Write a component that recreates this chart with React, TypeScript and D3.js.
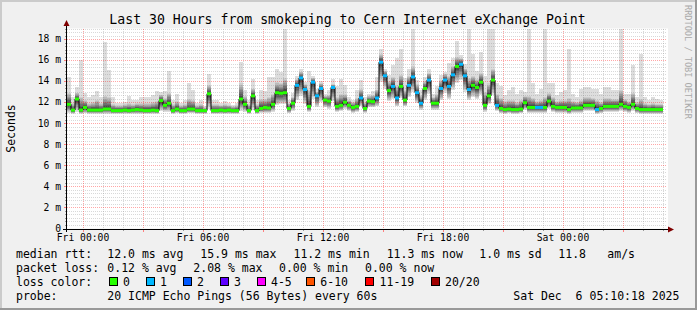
import React from "react";
import * as d3 from "d3";

const W = 697;
const H = 310;

// median RTT per 12-minute step (ms)
const medianMs = [
  11.8, 11.25, 12.3, 11.25, 11.5, 11.25, 11.25, 11.25, 11.25, 11.35,
  11.35, 11.2, 11.2, 11.2, 11.25, 11.2, 11.25, 11.3, 11.25, 11.2,
  11.2, 11.25, 11.2, 12.15, 11.7, 11.9, 11.2, 11.35, 11.2, 11.2,
  11.35, 11.35, 11.2, 11.2, 11.2, 12.8, 11.2, 11.2, 11.25, 11.2,
  11.25, 11.2, 11.2, 12.3, 11.8, 11.2, 12.6, 11.2, 11.4, 11.5,
  11.45, 11.8, 12.9, 12.85, 12.9, 11.4, 11.9, 13.6, 14.3, 13.2,
  11.6, 13.9, 12.6, 13.3, 12.2, 12.1, 13.4, 11.6, 11.7, 12.0,
  11.7, 11.5, 11.6, 12.4, 11.4, 12.1, 12.05, 12.4, 15.8, 14.5,
  13.1, 13.5, 12.4, 13.5, 12.2, 13.6, 14.4, 12.9, 11.9, 13.3,
  14.1, 11.9, 11.9, 13.3, 14.1, 13.5, 14.6, 15.4, 15.6, 14.5,
  13.2, 13.6, 13.4, 13.9, 11.7, 12.6, 14.1, 11.7, 11.4, 11.3,
  11.35, 11.3, 11.3, 11.35, 11.95, 11.5, 11.5, 11.5, 11.5, 11.5,
  12.1, 11.6, 11.5, 11.5, 11.5, 11.3, 11.45, 11.45, 11.45, 11.7,
  11.7, 11.7, 11.3, 11.4, 11.6, 11.6, 11.6, 11.6, 11.8, 11.6,
  11.5, 11.8, 11.4, 11.3, 11.3, 11.3, 11.3, 11.3, 11.3,
];

// lowest ping per step (ms)
const minMs = [
  11.0, 10.9, 11.1, 10.9, 10.95, 10.9, 10.9, 10.9, 10.9, 10.9,
  10.9, 10.9, 10.9, 10.9, 10.9, 10.9, 10.9, 10.9, 10.9, 10.9,
  10.9, 10.9, 10.9, 11.2, 11.1, 11.1, 10.9, 10.95, 10.9, 10.9,
  10.95, 10.95, 10.9, 10.9, 10.9, 11.4, 10.9, 10.9, 10.9, 10.9,
  10.9, 10.9, 10.9, 11.2, 11.1, 10.9, 11.3, 10.9, 11.0, 11.0,
  11.0, 11.1, 11.7, 11.8, 11.8, 10.95, 11.2, 12.2, 12.6, 11.8,
  11.1, 12.3, 11.5, 12.0, 11.5, 11.4, 12.1, 11.1, 11.2, 11.4,
  11.2, 11.0, 11.1, 11.6, 11.0, 11.5, 11.5, 11.6, 13.9, 13.3,
  12.1, 12.3, 11.6, 12.4, 11.6, 12.5, 13.0, 11.9, 11.3, 12.2,
  12.8, 11.3, 11.3, 12.2, 12.9, 12.3, 13.2, 13.8, 14.1, 13.0,
  12.2, 12.5, 12.3, 12.7, 11.1, 11.8, 12.7, 11.2, 10.95, 10.9,
  10.95, 10.9, 10.9, 10.95, 11.3, 11.0, 11.0, 11.0, 11.0, 11.0,
  11.4, 11.1, 11.0, 11.0, 11.0, 10.9, 11.0, 11.0, 11.0, 11.2,
  11.2, 11.2, 10.9, 10.95, 11.1, 11.1, 11.1, 11.1, 11.2, 11.1,
  11.0, 11.2, 10.95, 10.9, 10.9, 10.9, 10.9, 10.9, 10.9,
];

// upper edge of the dense part of the smoke (ms)
const p90Ms = [
  12.9, 11.9, 12.9, 12.5, 12.2, 11.9, 12.0, 12.2, 11.9, 12.6,
  12.5, 11.8, 11.7, 11.7, 11.8, 11.9, 11.8, 11.9, 11.9, 11.9,
  11.9, 12.0, 12.1, 12.7, 12.4, 12.9, 11.8, 12.1, 11.7, 11.8,
  12.3, 12.2, 11.7, 11.8, 11.5, 13.6, 11.8, 11.8, 11.7, 11.8,
  11.7, 11.6, 11.7, 13.8, 12.6, 11.8, 13.3, 11.8, 12.3, 12.3,
  12.5, 12.8, 13.9, 13.8, 14.3, 11.9, 12.5, 14.2, 14.9, 13.7,
  13.2, 14.3, 13.0, 13.8, 12.6, 12.7, 13.7, 12.5, 12.8, 12.8,
  12.2, 12.0, 12.4, 13.3, 12.0, 12.6, 12.7, 13.2, 16.6, 15.0,
  14.0, 14.4, 13.6, 14.6, 13.2, 14.5, 15.4, 13.7, 12.7, 14.0,
  14.8, 12.5, 12.8, 14.1, 14.7, 14.5, 15.4, 16.3, 16.2, 15.2,
  14.3, 14.5, 14.2, 14.8, 13.0, 13.8, 15.2, 12.8, 12.4, 12.1,
  12.2, 12.2, 12.0, 12.2, 12.6, 12.6, 12.4, 12.1, 12.2, 12.5,
  12.9, 12.5, 12.1, 12.2, 12.2, 12.4, 12.1, 12.0, 12.2, 12.5,
  12.5, 12.4, 12.2, 12.0, 12.4, 12.4, 12.3, 12.3, 13.2, 12.3,
  12.1, 12.9, 12.0, 12.3, 11.9, 11.8, 11.9, 11.8, 11.8,
];

// highest ping per step (ms)
const maxMs = [
  14.4, 12.5, 13.4, 16.0, 12.9, 12.5, 12.7, 13.1, 12.5, 17.7,
  15.1, 12.5, 11.9, 11.9, 12.0, 12.6, 12.2, 12.2, 12.5, 12.5,
  12.5, 12.7, 13.1, 13.0, 13.1, 15.0, 12.2, 12.8, 11.9, 12.2,
  13.8, 13.2, 11.9, 12.2, 11.6, 14.7, 12.2, 12.2, 11.9, 12.1,
  11.9, 11.7, 11.9, 15.8, 13.2, 12.2, 14.2, 12.2, 13.2, 13.1,
  14.4, 14.4, 15.2, 14.9, 19.0, 12.2, 12.9, 14.5, 15.2, 13.9,
  15.0, 14.5, 13.3, 14.0, 12.8, 13.2, 14.2, 13.5, 14.2, 13.6,
  12.5, 12.2, 13.2, 14.1, 12.5, 12.8, 13.1, 14.4, 17.1, 15.2,
  14.6, 15.5, 16.2, 17.1, 14.3, 15.2, 19.0, 14.1, 13.2, 14.4,
  15.2, 12.8, 13.5, 14.6, 14.9, 15.7, 16.2, 17.8, 16.5, 15.6,
  19.0, 16.6, 15.0, 16.8, 14.5, 19.0, 19.0, 13.8, 13.5, 12.7,
  13.2, 13.4, 12.8, 13.2, 13.0, 19.0, 13.8, 12.8, 13.3, 19.0,
  13.8, 13.8, 12.7, 13.0, 13.2, 17.1, 12.8, 12.5, 13.3, 13.4,
  13.4, 13.3, 13.3, 12.8, 13.4, 13.4, 13.2, 13.2, 19.0, 12.8,
  12.8, 15.5, 12.5, 16.6, 12.5, 12.2, 12.5, 12.3, 12.2,
];

// steps with 1 of 20 pings lost
const lossOneSteps = [
  57, 58, 59, 61, 62, 63, 66, 73, 77, 78, 79, 81, 82, 85, 86, 87, 88, 90,
  93, 94, 95, 96, 98, 99, 100, 107, 117, 118, 132,
];

const yTickValues = [0, 2, 4, 6, 8, 10, 12, 14, 16, 18];
const yTickLabels = ["0", "2 m", "4 m", "6 m", "8 m", "10 m", "12 m", "14 m", "16 m", "18 m"];

const lossLabels = ["0", "1", "2", "3", "4-5", "6-10", "11-19", "20/20"];
const lossColors = ["#26ff00", "#00b8ff", "#0059ff", "#5e00ff", "#ff00ff", "#ff5500", "#ff0000", "#a10000"];
const lossBoxX = [108.7, 145.7, 182.7, 219.7, 256.7, 306, 365.3, 430.7];

const legendRows: [number, number, string][] = [
  [258, 16, "median rtt:"],
  [258, 107.3, "12.0 ms avg"],
  [258, 200.3, "15.9 ms max"],
  [258, 293.5, "11.2 ms min"],
  [258, 386.7, "11.3 ms now"],
  [258, 479.3, "1.0 ms sd"],
  [258, 558.3, "11.8"],
  [258, 607.3, "am/s"],
  [272, 16, "packet loss:"],
  [272, 107.3, "0.12 % avg"],
  [272, 193.3, "2.08 % max"],
  [272, 279, "0.00 % min"],
  [272, 365, "0.00 % now"],
  [286, 16, "loss color:"],
  [300, 16, "probe:"],
  [300, 107.3, "20 ICMP Echo Pings (56 Bytes) every 60s"],
  [300, 513.3, "Sat Dec  6 05:10:18 2025"],
];

const MONO = "'DejaVu Sans Mono', monospace";

export default function App() {
  const left = 67;
  const right = 667;
  const top = 28.5;
  const bottom = 228.5;

  const t0 = new Date(Date.UTC(2025, 11, 4, 23, 12));
  const t1 = new Date(Date.UTC(2025, 11, 6, 5, 12));
  const stepMs = 12 * 60 * 1000;
  const x = d3.scaleUtc().domain([t0, t1]).range([left, right]);
  const y = d3.scaleLinear().domain([0, 19]).range([bottom, top]);
  const tAt = (k: number) => new Date(t0.getTime() + k * stepMs);
  const px = (v: number) => Math.round(v) + 0.5;

  const lossSet = new Set(lossOneSteps);

  const hourTicks = x.ticks(d3.utcHour.every(1) as any);
  const majorTicks = hourTicks.filter((d) => d.getUTCHours() % 3 === 0);
  const minorTicks = hourTicks.filter((d) => d.getUTCHours() % 3 !== 0);
  const labelTicks = hourTicks.filter((d) => d.getUTCHours() % 6 === 0);
  const fmt = d3.utcFormat("%a %H:%M");

  const yMinor = d3.range(0, 19.001, 1 / 3).filter((v) => {
    const r = v / 2;
    return Math.abs(r - Math.round(r)) > 0.01;
  });

  // smoke bands
  const nBands = 10;
  const bands: any[] = [];
  for (let j = 0; j < nBands; j++) {
    const level = j === 0 ? 221 : Math.round(205 - (j - 1) * (150 / 8));
    const color = `rgb(${level},${level},${level})`;
    const rects = medianMs.map((m, k) => {
      let lo: number, hi: number;
      if (j === 0) {
        lo = minMs[k];
        hi = maxMs[k];
      } else {
        lo = minMs[k] + (m - minMs[k]) * (j / nBands);
        hi = p90Ms[k] + (m - p90Ms[k]) * ((j - 1) / (nBands - 1));
      }
      const x0 = x(tAt(k));
      const x1 = x(tAt(k + 1));
      const yTop = y(Math.min(hi, 19));
      const yBot = y(lo);
      return (
        <rect key={k} x={x0} y={yTop} width={x1 - x0} height={Math.max(0, yBot - yTop)} fill={color} />
      );
    });
    bands.push(<g key={j}>{rects}</g>);
  }

  const medPts: [number, number][] = medianMs.map((m, k) => [x(tAt(k)), y(m)]);
  medPts.push([x(tAt(medianMs.length)), y(medianMs[medianMs.length - 1])]);
  const medLine = d3.line().curve(d3.curveStepAfter)(medPts) || "";

  return (
    <svg
      width={W}
      height={H}
      viewBox={`0 0 ${W} ${H}`}
      style={{ position: "fixed", left: 0, top: 0, display: "block" }}
      fontFamily={MONO}
    >
      <rect x={0} y={0} width={W} height={H} fill="#f0f0f0" />
      {/* 3D frame */}
      <rect x={0} y={0} width={W} height={2} fill="#cbcbcb" />
      <rect x={0} y={0} width={2} height={H} fill="#cbcbcb" />
      <rect x={0} y={H - 2} width={W} height={2} fill="#999999" />
      <rect x={W - 2} y={0} width={2} height={H} fill="#999999" />

      <text x={347.5} y={24} fontSize={13.2} textAnchor="middle" fill="#000">
        Last 30 Hours from smokeping to Cern Internet eXchange Point
      </text>

      <text transform="translate(685,5) rotate(90)" fontSize={8.6} fill="#aaaaaa">
        RRDTOOL / TOBI OETIKER
      </text>

      <text
        transform={`translate(15,${(top + bottom) / 2}) rotate(-90)`}
        fontSize={11.5}
        textAnchor="middle"
        fill="#000"
      >
        Seconds
      </text>

      {/* canvas */}
      <rect x={left} y={top} width={right - left + 1} height={bottom - top} fill="#ffffff" />

      <g shapeRendering="crispEdges">{bands}</g>

      {/* grid */}
      <g shapeRendering="crispEdges" strokeWidth={1} strokeDasharray="1,1">
        {yMinor.map((v, i) => (
          <line key={"ym" + i} x1={left} x2={right} y1={px(y(v))} y2={px(y(v))} stroke="rgba(128,128,128,0.3)" />
        ))}
        {minorTicks.map((d, i) => (
          <line key={"xm" + i} x1={px(x(d))} x2={px(x(d))} y1={top} y2={bottom} stroke="rgba(128,128,128,0.3)" />
        ))}
        {yTickValues.filter((v) => v > 0).map((v, i) => (
          <line key={"yM" + i} x1={left} x2={right} y1={px(y(v))} y2={px(y(v))} stroke="rgba(255,0,0,0.35)" />
        ))}
        {majorTicks.map((d, i) => (
          <line key={"xM" + i} x1={px(x(d))} x2={px(x(d))} y1={top} y2={bottom} stroke="rgba(255,0,0,0.35)" />
        ))}
      </g>

      {/* median */}
      <path d={medLine} fill="none" stroke="#000" strokeWidth={1} />
      <g>
        {medianMs.map((m, k) => (
          <line
            key={k}
            x1={x(tAt(k))}
            x2={x(tAt(k + 1))}
            y1={y(m)}
            y2={y(m)}
            stroke={lossSet.has(k) ? lossColors[1] : lossColors[0]}
            strokeWidth={3}
          />
        ))}
      </g>

      {/* axes */}
      <g shapeRendering="crispEdges">
        {minorTicks.map((d, i) => (
          <line key={"xt" + i} x1={px(x(d))} x2={px(x(d))} y1={bottom} y2={bottom + 2} stroke="#999" />
        ))}
        {majorTicks.map((d, i) => (
          <line key={"xT" + i} x1={px(x(d))} x2={px(x(d))} y1={bottom} y2={bottom + 3} stroke="#ff8080" />
        ))}
        {yMinor.map((v, i) => (
          <line key={"yt" + i} x1={left - 2} x2={left} y1={px(y(v))} y2={px(y(v))} stroke="#999" />
        ))}
        {yTickValues.map((v, i) => (
          <line key={"yT" + i} x1={left - 3} x2={left} y1={px(y(v))} y2={px(y(v))} stroke="#ff8080" />
        ))}
        <line x1={63} x2={669} y1={px(bottom)} y2={px(bottom)} stroke="#000" />
        <line x1={66.5} x2={66.5} y1={23} y2={232} stroke="#000" />
      </g>
      <path d={`M668,${px(bottom) - 3} L674,${px(bottom)} L668,${px(bottom) + 3} Z`} fill="#7f0000" />
      <path d={`M63.5,26 L66.5,20 L69.5,26 Z`} fill="#7f0000" />

      {/* tick labels */}
      <g fontSize={9.7} fill="#000">
        {yTickValues.map((v, i) => (
          <text key={"yl" + i} x={61} y={y(v) + 3.3} textAnchor="end">
            {yTickLabels[i]}
          </text>
        ))}
        {labelTicks.map((d, i) => (
          <text key={"xl" + i} x={x(d)} y={241} textAnchor="middle">
            {fmt(d)}
          </text>
        ))}
      </g>

      {/* legend */}
      <g fontSize={11.5} fill="#000">
        {legendRows.map(([yy, xx, s], i) => (
          <text key={"lg" + i} x={xx} y={yy} style={{ whiteSpace: "pre" }}>
            {s}
          </text>
        ))}
        {lossLabels.map((lab, i) => (
          <g key={"lb" + i}>
            <rect
              x={Math.round(lossBoxX[i]) + 0.5}
              y={277.5}
              width={8}
              height={8}
              fill={lossColors[i]}
              stroke="#000"
              strokeWidth={1}
              shapeRendering="crispEdges"
            />
            <text x={lossBoxX[i] + 14.3} y={286}>
              {lab}
            </text>
          </g>
        ))}
      </g>
    </svg>
  );
}
